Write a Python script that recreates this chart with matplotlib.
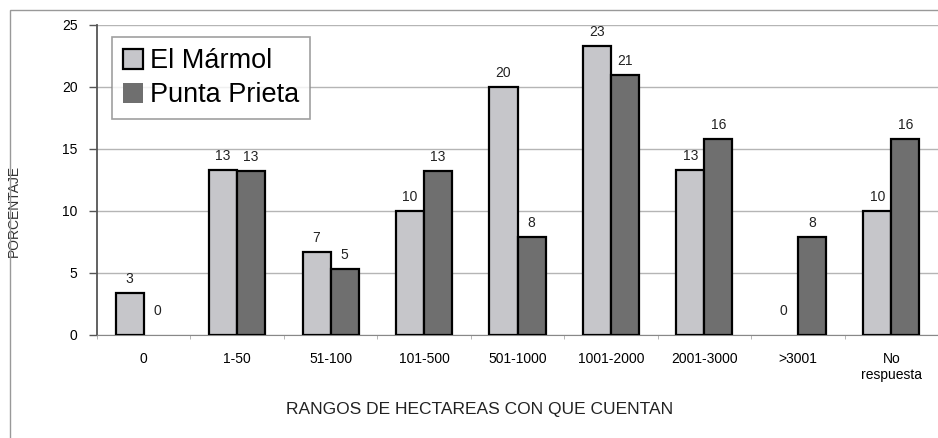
import numpy as np
import matplotlib
matplotlib.use("Agg")
import matplotlib.pyplot as plt
from matplotlib.patches import Rectangle

plt.rcParams['font.family'] = ['Liberation Sans', 'DejaVu Sans']

# Datos
categorias = ['0', '1-50', '51-100', '101-500', '501-1000', '1001-2000',
              '2001-3000', '>3001', 'No\nrespuesta']
el_marmol = [3.4, 13.3, 6.7, 10.0, 20.0, 23.3, 13.3, 0.0, 10.0]
punta_prieta = [0.0, 13.2, 5.3, 13.2, 7.9, 21.0, 15.8, 7.9, 15.8]
yticks = [0, 5, 10, 15, 20, 25]

fig = plt.figure(figsize=(9.38, 4.38), dpi=100)
ax = fig.add_axes([97 / 938, 103 / 438, 841 / 938, 310 / 438])

x = np.arange(len(categorias))
w = 0.30
b1 = ax.bar(x - w / 2, el_marmol, w, color='#c6c6ca', edgecolor='black',
            linewidth=1.6, label='El Mármol', zorder=3)
b2 = ax.bar(x + w / 2, punta_prieta, w, color='#6f6f6f', edgecolor='black',
            linewidth=1.6, label='Punta Prieta', zorder=3)

# etiquetas de valor
for bars, vals in ((b1, el_marmol), (b2, punta_prieta)):
    for rect, v in zip(bars, vals):
        if v == 0:
            rect.set_edgecolor('none')
        off = 12 if v == 0 else 5
        ax.annotate('%.0f' % v, (rect.get_x() + rect.get_width() / 2, v),
                    xytext=(0, off), textcoords='offset points',
                    ha='center', va='bottom', fontsize=10, color='#222222')

ax.set_xlim(-0.5, 8.45)
ax.set_ylim(0, 25)
ax.set_yticks(yticks)
ax.set_yticklabels([str(t) for t in yticks], fontsize=10)
ax.set_xticks(x)
ax.set_xticklabels(categorias, fontsize=10, linespacing=1.2)
ax.tick_params(axis='x', length=0, pad=12)
ax.set_xticks(np.arange(-0.5, 9, 1), minor=True)
ax.tick_params(axis='x', which='minor', length=3, color='#aaaaaa')
ax.tick_params(axis='y', length=6, width=1, color='#555555', pad=8)

ax.grid(axis='y', color='#b5b5b5', linewidth=1.0, zorder=0)
ax.spines['top'].set_visible(False)
ax.spines['right'].set_visible(False)
ax.spines['left'].set_color('#555555')
ax.spines['left'].set_linewidth(1.3)
ax.spines['bottom'].set_color('#888888')

ax.set_ylabel('PORCENTAJE', fontsize=10, color='#333333')
ax.yaxis.set_label_coords(-0.09, 0.40)
ax.set_xlabel('RANGOS DE HECTAREAS CON QUE CUENTAN', fontsize=12.5,
              color='#222222')
ax.xaxis.set_label_coords(0.455, -0.215)

leg = ax.legend(loc='upper left', bbox_to_anchor=(0.018, 0.96), fontsize=19.5,
                frameon=True, fancybox=False, edgecolor='#888888',
                handlelength=0.75, handleheight=0.75, handletextpad=0.25,
                borderpad=0.4, labelspacing=0.3, borderaxespad=0)
leg.get_frame().set_linewidth(1.2)

# marco exterior
fig.patches.append(Rectangle((10 / 938, -0.01), 1.0, 1.01 - 10 / 438,
                             transform=fig.transFigure, fill=False,
                             edgecolor='#999999', linewidth=1.0))

fig.savefig('out.png', dpi=100)
